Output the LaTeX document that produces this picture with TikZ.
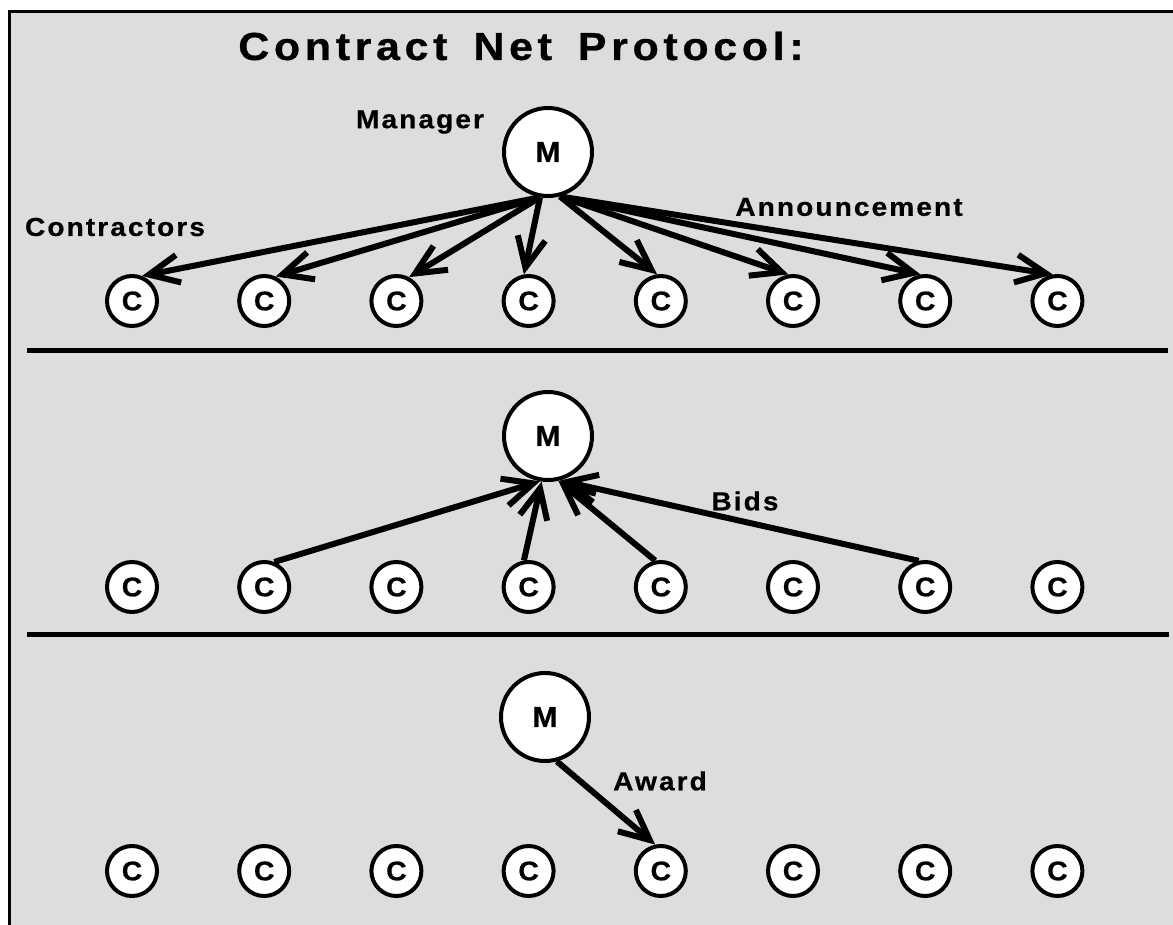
\documentclass[tikz,border=0pt]{standalone}
\usepackage{fontspec}
\setmainfont{Liberation Sans}
\newfontfamily\lblfont{Liberation Sans}[LetterSpace=8, FakeStretch=1.08, FakeBold=0.6]
\newfontfamily\ttlfont{Liberation Sans}[LetterSpace=12, FakeStretch=1.1, FakeBold=0.8]
\newfontfamily\nodefont{Liberation Sans}[FakeStretch=1.05, FakeBold=0.6]
\usetikzlibrary{arrows.meta}
\definecolor{bg}{RGB}{221,221,221}
\tikzset{
  mnode/.style={circle, draw, line width=4pt, fill=white, minimum size=88pt, inner sep=0pt, font=\nodefont\fontsize{29}{32}\selectfont\bfseries},
  cnode/.style={circle, draw, line width=4pt, fill=white, minimum size=50pt, inner sep=0pt, font=\nodefont\fontsize{27}{30}\selectfont\bfseries},
  lbl/.style={inner sep=0pt, font=\lblfont\fontsize{26}{28}\selectfont\bfseries},
  ttl/.style={inner sep=0pt, font=\ttlfont\fontsize{39}{42}\selectfont\bfseries},
  msg/.style={line width=6pt, -{Straight Barb[length=30pt,width=28pt]}},
  rulebar/.style={line width=5pt}
}
\begin{document}
\begin{tikzpicture}[x=1pt,y=-1pt]
\useasboundingbox (0,0) rectangle (1173,925);
\fill[bg] (9.5,11.5) rectangle (1173,925);
\draw[line width=3pt] (9.5,925) -- (9.5,11.5) -- (1173,11.5);

% title and labels
\node[ttl] (title) at (521,46) {Contract\hspace{26pt}Net\hspace{26pt}Protocol:};
\node[lbl] (lman) at (420,122) {Manager};
\node[lbl] (lcon) at (115,227) {Contractors};
\node[lbl] (lann) at (849,207) {Announcement};
\node[lbl] (lbid) at (745,501) {Bids};
\node[lbl] (lawd) at (660,781) {Award};

% separators
\coordinate (s1a) at (27,351);
\coordinate (s1b) at (1168,351);
\coordinate (s2a) at (27,634);
\coordinate (s2b) at (1169,634);
\draw[rulebar] (s1a) -- (s1b);
\draw[rulebar] (s2a) -- (s2b);

% managers
\node[mnode] (m1) at (548,152) {M};
\node[mnode] (m2) at (548,436) {M};
\node[mnode] (m3) at (545,717) {M};

% contractors
\foreach \i in {1,...,8} {
  \node[cnode] (a\i) at ({132+132.2*(\i-1)},301) {C};
  \node[cnode] (b\i) at ({132+132.2*(\i-1)},587) {C};
  \node[cnode] (c\i) at ({132+132.2*(\i-1)},871) {C};
}

% announcement
\draw[msg] (m1.260) -- (a1.68);
\draw[msg] (m1.260) -- (a2.65);
\draw[msg] (m1.260) -- (a3.62);
\draw[msg] (m1.260) -- (a4.100);
\draw[msg] (m1.285) -- (a5.98);
\draw[msg] (m1.285) -- (a6.100);
\draw[msg] (m1.285) -- (a7.100);
\draw[msg] (m1.285) -- (a8.100);

% bids
\draw[msg] (b2.68) -- (m2.260);
\draw[msg] (b4.100) -- (m2.262);
\draw[msg] (b5.102) -- (m2.283);
\draw[msg] (b7.104) -- (m2.285);

% award
\draw[msg] (m3.285) -- (c5.102);
\end{tikzpicture}
\end{document}
